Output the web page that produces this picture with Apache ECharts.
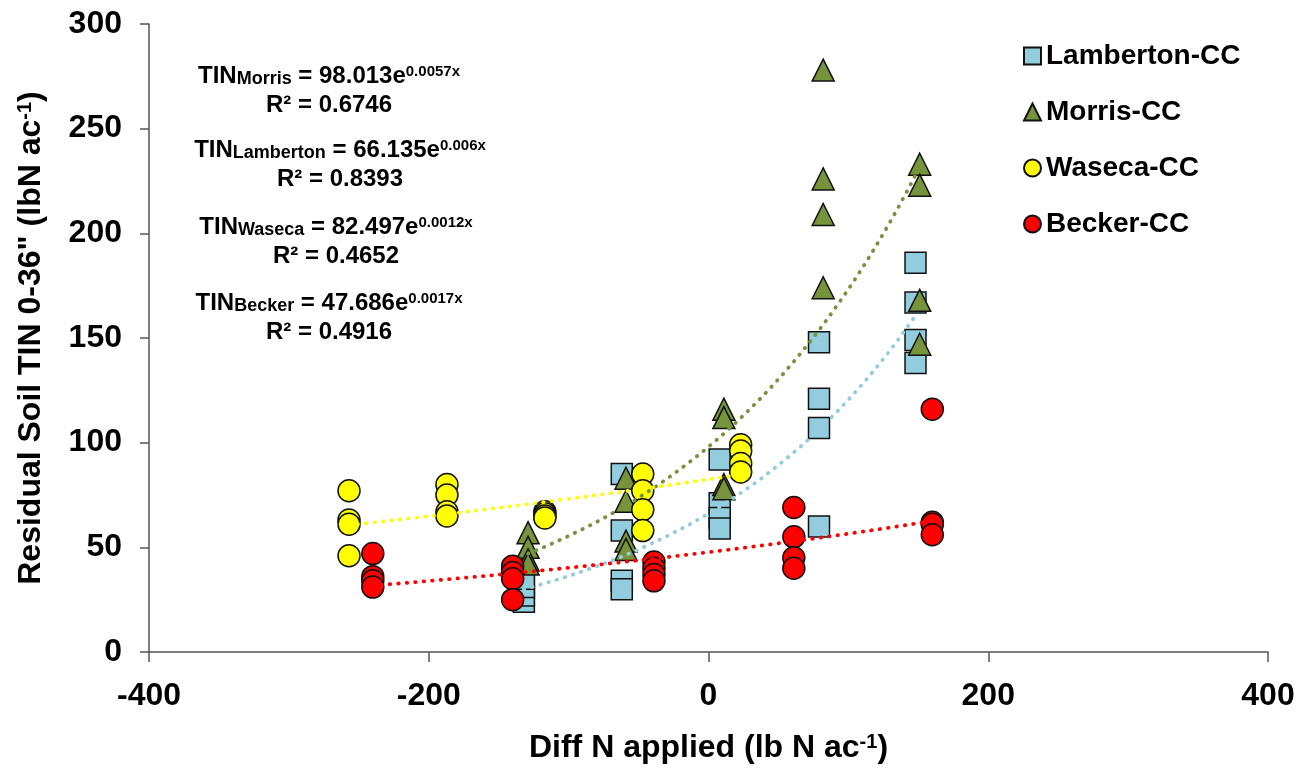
<!DOCTYPE html>
<html>
<head>
<meta charset="utf-8">
<script src="https://cdn.jsdelivr.net/npm/echarts@6/dist/echarts.min.js"></script>
<style>
  html, body { margin: 0; padding: 0; background: #fff; }
  #main { width: 1306px; height: 775px; }
</style>
</head>
<body>
<div id="main"></div>
<script>
const FONT = "'Liberation Sans', Arial, sans-serif"

// readings per site: diff N applied (x) and residual soil TIN (y)
const lambertonX = [-132, -132, -132, -132, -62, -62, -62, -62, 8, 8, 8, 8, 79, 79, 79, 79, 148, 148, 148, 148]
const lambertonY = [24, 27, 31, 35, 85, 58, 34, 30, 92, 71, 64, 59, 148, 121, 107, 60, 186, 167, 149, 138]

const morrisX = [-129, -129, -129, -129, -59, -59, -59, -59, 11, 11, 11, 11, 82, 82, 82, 82, 151, 151, 151, 151]
const morrisY = [57, 50, 44, 42, 83, 72, 53, 49, 116, 112, 80, 78, 278, 226, 209, 174, 233, 223, 168, 147]

const wasecaX = [-257, -257, -257, -257, -187, -187, -187, -187, -117, -117, -117, -117, -47, -47, -47, -47, 23, 23, 23, 23]
const wasecaY = [77, 63, 61, 46, 80, 75, 67, 65, 67, 66, 65, 64, 85, 77, 68, 58, 99, 96, 90, 86]

const beckerX = [-240, -240, -240, -240, -140, -140, -140, -140, -39, -39, -39, -39, 61, 61, 61, 61, 160, 160, 160, 160]
const beckerY = [47, 36, 34, 31, 41, 38, 35, 25, 43, 40, 37, 34, 69, 55, 45, 40, 116, 62, 61, 56]

// exponential trendlines as printed on the chart: y = a * e^(b x)
const siteNames = ['Lamberton', 'Morris', 'Waseca', 'Becker']
const trendA = [66.135, 98.013, 82.497, 47.686]
const trendB = [0.006, 0.0057, 0.0012, 0.0017]
const trendAText = ['66.135', '98.013', '82.497', '47.686']
const trendBText = ['0.006x', '0.0057x', '0.0012x', '0.0017x']
const r2Text = ['0.8393', '0.6746', '0.4652', '0.4916']

const xTicks = [-400, -200, 0, 200, 400]
const yTicks = [0, 50, 100, 150, 200, 250, 300]

const colors = ['#93CDDD', '#77933C', '#FFFF00', '#FF0000']
const symbols = ['rect', 'triangle', 'circle', 'circle']
const sizes = [21, 22, 22, 22]
const allX = [lambertonX, morrisX, wasecaX, beckerX]
const allY = [lambertonY, morrisY, wasecaY, beckerY]

const zip = (xs, ys) => xs.map((x, i) => [x, ys[i]])

function trendPoints(k) {
  const xs = allX[k]
  const x0 = Math.min(...xs), x1 = Math.max(...xs)
  const pts = []
  for (let i = 0; i <= 40; i++) {
    const x = x0 + (x1 - x0) * i / 40
    pts.push([x, trendA[k] * Math.exp(trendB[k] * x)])
  }
  return pts
}

const scatterSeries = siteNames.map((s, k) => ({
  name: s + '-CC',
  type: 'scatter',
  symbol: symbols[k],
  symbolSize: sizes[k],
  data: zip(allX[k], allY[k]),
  itemStyle: { color: colors[k], borderColor: '#111', borderWidth: 1.5, opacity: 1 },
  emphasis: { disabled: true },
  z: 2,
}))

const trendSeries = siteNames.map((s, k) => ({
  name: s + ' trend',
  type: 'line',
  data: trendPoints(k),
  showSymbol: false,
  symbol: 'none',
  silent: true,
  lineStyle: { color: colors[k], width: 3.8, type: [0.5, 8], cap: 'round' },
  z: 3,
}))

// equation labels, in the order they sit on the chart
const eqOrder = [1, 0, 2, 3]
const eqPos = [[329, 76, 105], [340, 150, 179], [336, 227, 256], [329, 303, 332]]
const eqRich = {
  m: { fontFamily: FONT, fontWeight: 'bold', fontSize: 24, lineHeight: 24, color: '#000' },
  sub: { fontFamily: FONT, fontWeight: 'bold', fontSize: 18, lineHeight: 8, verticalAlign: 'bottom', color: '#000' },
  sup: { fontFamily: FONT, fontWeight: 'bold', fontSize: 15, lineHeight: 12, verticalAlign: 'top', color: '#000' },
}
const graphics = []
eqOrder.forEach((k, i) => {
  const [cx, y1, y2] = eqPos[i]
  graphics.push({
    type: 'text', x: cx, y: y1, silent: true,
    style: {
      text: '{m|TIN}{sub|' + siteNames[k] + '}{m| = ' + trendAText[k] + 'e}{sup|' + trendBText[k] + '}',
      rich: eqRich, align: 'center', verticalAlign: 'middle',
    },
  })
  graphics.push({
    type: 'text', x: cx, y: y2, silent: true,
    style: {
      text: 'R² = ' + r2Text[k],
      fontFamily: FONT, fontWeight: 'bold', fontSize: 24, fill: '#000',
      align: 'center', verticalAlign: 'middle',
    },
  })
})

const axisColor = '#555'
const nameRich = {
  a: { fontFamily: FONT, fontWeight: 'bold', fontSize: 32, lineHeight: 32, color: '#000' },
  s: { fontFamily: FONT, fontWeight: 'bold', fontSize: 20, lineHeight: 20, verticalAlign: 'top', color: '#000' },
}
const chart = echarts.init(document.getElementById('main'))
chart.setOption({
  animation: false,
  backgroundColor: '#fff',
  grid: { left: 149, right: 38, top: 24, bottom: 123, containLabel: false, outerBoundsMode: 'none' },
  legend: {
    orient: 'vertical',
    left: 1018,
    top: 37,
    itemWidth: 17,
    itemHeight: 17,
    itemGap: 28,
    data: siteNames.map(s => s + '-CC'),
    textStyle: { fontFamily: FONT, fontWeight: 'bold', fontSize: 28, lineHeight: 28, color: '#000' },
  },
  xAxis: {
    type: 'value',
    min: xTicks[0],
    max: xTicks[xTicks.length - 1],
    interval: 200,
    splitLine: { show: false },
    axisLine: { show: true, onZero: false, lineStyle: { color: axisColor, width: 1.5 } },
    axisTick: { show: true, inside: false, length: 10, lineStyle: { color: axisColor, width: 1.5 } },
    axisLabel: { margin: 28, fontFamily: FONT, fontWeight: 'bold', fontSize: 32, color: '#000' },
    name: '{a|Diff N applied (lb N ac}{s|-1}{a|)}',
    nameLocation: 'middle',
    nameGap: 80,
    nameTextStyle: { rich: nameRich },
  },
  yAxis: {
    type: 'value',
    min: yTicks[0],
    max: yTicks[yTicks.length - 1],
    interval: 50,
    splitLine: { show: false },
    axisLine: { show: true, onZero: false, lineStyle: { color: axisColor, width: 1.5 } },
    axisTick: { show: true, inside: false, length: 9, lineStyle: { color: axisColor, width: 1.5 } },
    axisLabel: { margin: 27, fontFamily: FONT, fontWeight: 'bold', fontSize: 32, color: '#000' },
    name: '{a|Residual Soil TIN 0-36" (lbN ac}{s|-1}{a|)}',
    nameLocation: 'middle',
    nameRotate: 90,
    nameGap: 102,
    nameTextStyle: { rich: nameRich },
  },
  graphic: graphics,
  series: [...scatterSeries, ...trendSeries],
})
</script>
</body>
</html>
